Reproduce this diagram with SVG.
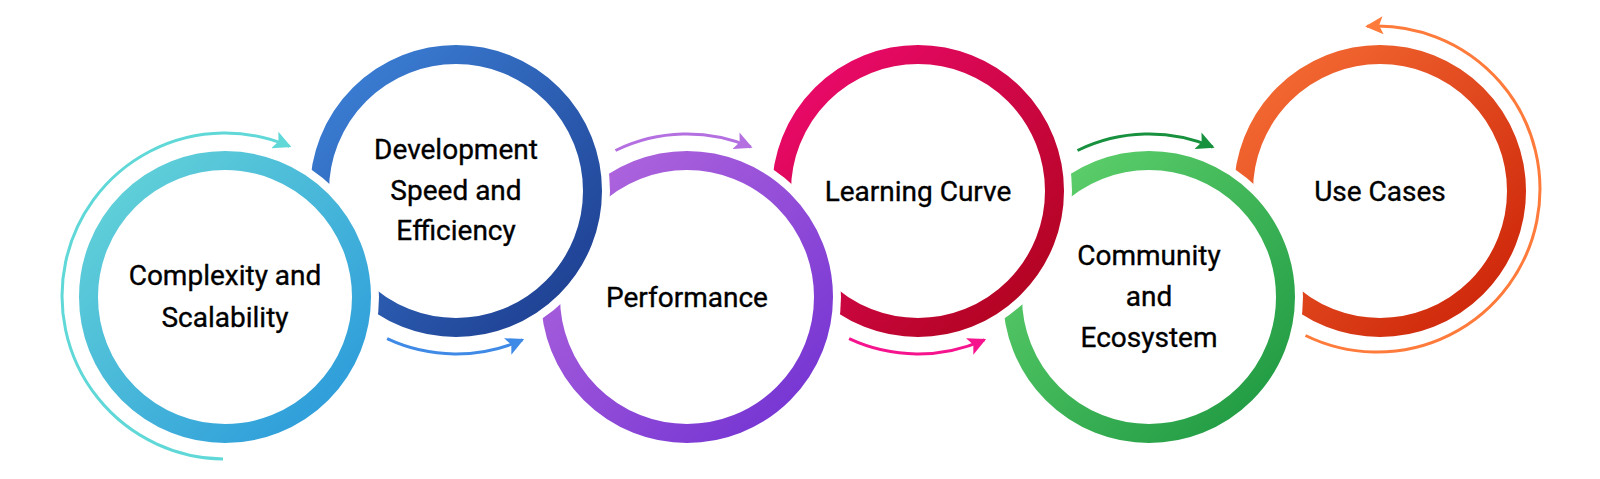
<svg xmlns="http://www.w3.org/2000/svg" width="1600" height="479" viewBox="0 0 1600 479">
<style>
.halo{fill:#ffffff}
.ring{fill:#ffffff;stroke-width:19}
.lbl{font-family:Roboto,"Liberation Sans",sans-serif;font-weight:400;font-size:28px;fill:#000000;stroke:#000000;stroke-width:0.35px;text-anchor:middle}
.arr{fill:none;stroke-width:3}
</style>
<defs>
<linearGradient id="g1" x1="0" y1="0" x2="1" y2="1"><stop offset="0" stop-color="#66d6d8"/><stop offset="1" stop-color="#2897db"/></linearGradient>
<linearGradient id="g2" x1="0" y1="0" x2="1" y2="1"><stop offset="0" stop-color="#3d84da"/><stop offset="1" stop-color="#1c3a8c"/></linearGradient>
<linearGradient id="g3" x1="0" y1="0" x2="1" y2="1"><stop offset="0" stop-color="#b56ade"/><stop offset="1" stop-color="#7030d2"/></linearGradient>
<linearGradient id="g4" x1="0" y1="0" x2="1" y2="1"><stop offset="0" stop-color="#f00a72"/><stop offset="1" stop-color="#ac0318"/></linearGradient>
<linearGradient id="g5" x1="0" y1="0" x2="1" y2="1"><stop offset="0" stop-color="#64d570"/><stop offset="1" stop-color="#1b9640"/></linearGradient>
<linearGradient id="g6" x1="0" y1="0" x2="1" y2="1"><stop offset="0" stop-color="#f77036"/><stop offset="1" stop-color="#ca2006"/></linearGradient>
<marker id="m1" markerUnits="userSpaceOnUse" markerWidth="20" markerHeight="18" viewBox="0 0 20 18" refX="16" refY="9" orient="auto"><path d="M0,0 L18,9 L0,18 L4,9 Z" fill="#60d8d8"/></marker>
<marker id="m2" markerUnits="userSpaceOnUse" markerWidth="20" markerHeight="18" viewBox="0 0 20 18" refX="16" refY="9" orient="auto"><path d="M0,0 L18,9 L0,18 L4,9 Z" fill="#3f8ae6"/></marker>
<marker id="m3" markerUnits="userSpaceOnUse" markerWidth="20" markerHeight="18" viewBox="0 0 20 18" refX="16" refY="9" orient="auto"><path d="M0,0 L18,9 L0,18 L4,9 Z" fill="#b470e0"/></marker>
<marker id="m4" markerUnits="userSpaceOnUse" markerWidth="20" markerHeight="18" viewBox="0 0 20 18" refX="16" refY="9" orient="auto"><path d="M0,0 L18,9 L0,18 L4,9 Z" fill="#f5138e"/></marker>
<marker id="m5" markerUnits="userSpaceOnUse" markerWidth="20" markerHeight="18" viewBox="0 0 20 18" refX="16" refY="9" orient="auto"><path d="M0,0 L18,9 L0,18 L4,9 Z" fill="#17913e"/></marker>
<marker id="m6" markerUnits="userSpaceOnUse" markerWidth="20" markerHeight="18" viewBox="0 0 20 18" refX="16" refY="9" orient="auto"><path d="M0,0 L18,9 L0,18 L4,9 Z" fill="#ff7b3c"/></marker>
</defs>
<rect width="1600" height="479" fill="#ffffff"/>
<g id="node-use-cases">
<circle class="halo" cx="1380" cy="191" r="154"/>
<circle class="ring" cx="1380" cy="191" r="136.5" stroke="url(#g6)"/>
<text class="lbl" x="1380" y="201">Use Cases</text>
</g>
<g id="node-community">
<circle class="halo" cx="1149" cy="297" r="154"/>
<circle class="ring" cx="1149" cy="297" r="136.5" stroke="url(#g5)"/>
<text class="lbl" x="1149" y="265">Community</text>
<text class="lbl" x="1149" y="306">and</text>
<text class="lbl" x="1149" y="347">Ecosystem</text>
</g>
<g id="node-learning">
<circle class="halo" cx="918" cy="191" r="154"/>
<circle class="ring" cx="918" cy="191" r="136.5" stroke="url(#g4)"/>
<text class="lbl" x="918" y="201">Learning Curve</text>
</g>
<g id="node-performance">
<circle class="halo" cx="687" cy="297" r="154"/>
<circle class="ring" cx="687" cy="297" r="136.5" stroke="url(#g3)"/>
<text class="lbl" x="687" y="307">Performance</text>
</g>
<g id="node-development">
<circle class="halo" cx="456" cy="191" r="154"/>
<circle class="ring" cx="456" cy="191" r="136.5" stroke="url(#g2)"/>
<text class="lbl" x="456" y="159">Development</text>
<text class="lbl" x="456" y="200">Speed and</text>
<text class="lbl" x="456" y="240">Efficiency</text>
</g>
<g id="node-complexity">
<circle class="halo" cx="225" cy="297" r="154"/>
<circle class="ring" cx="225" cy="297" r="136.5" stroke="url(#g1)"/>
<text class="lbl" x="225" y="285">Complexity and</text>
<text class="lbl" x="225" y="327">Scalability</text>
</g>
<g id="connectors">
<path class="arr" stroke="#60d8d8" marker-end="url(#m1)" d="M223,459 A163,163 0 1 1 289.5,146.3"/>
<path class="arr" stroke="#3f8ae6" marker-end="url(#m2)" d="M387.1,338.7 A163,163 0 0 0 522.3,339.9"/>
<path class="arr" stroke="#b470e0" marker-end="url(#m3)" d="M615.5,150.5 A163,163 0 0 1 750.7,147"/>
<path class="arr" stroke="#f5138e" marker-end="url(#m4)" d="M849.1,338.7 A163,163 0 0 0 984.3,339.9"/>
<path class="arr" stroke="#17913e" marker-end="url(#m5)" d="M1077.5,150.5 A163,163 0 0 1 1212.7,147"/>
<path class="arr" stroke="#ff7b3c" marker-end="url(#m6)" d="M1305.5,335.5 A163,163 0 1 0 1367.1,26.3"/>
</g>
</svg>
